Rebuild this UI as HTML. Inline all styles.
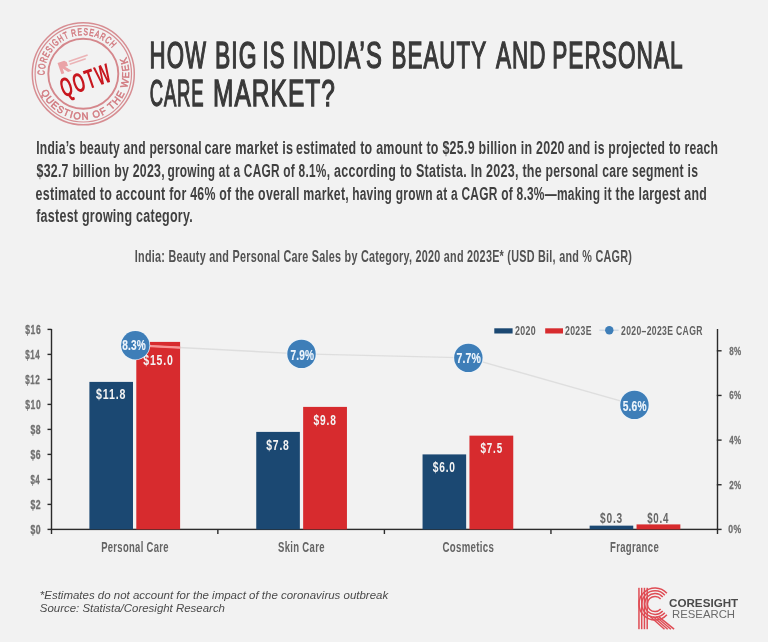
<!DOCTYPE html>
<html><head><meta charset="utf-8"><style>
html,body{margin:0;padding:0;background:#f2f2f2;}
svg{display:block;will-change:transform;font-family:"Liberation Sans", sans-serif;}
</style></head><body>
<svg width="768" height="642" viewBox="0 0 768 642">
<rect width="768" height="642" fill="#f2f2f2"/>
<text x="149.6" y="67.6" font-size="36.5" font-weight="normal" fill="#393939" letter-spacing="1.6" stroke="#393939" stroke-width="1.35" textLength="57.27" lengthAdjust="spacingAndGlyphs">HOW</text>
<text x="215.0" y="67.6" font-size="36.5" font-weight="normal" fill="#393939" letter-spacing="1.6" stroke="#393939" stroke-width="1.35" textLength="42.6" lengthAdjust="spacingAndGlyphs">BIG</text>
<text x="262.6" y="67.6" font-size="36.5" font-weight="normal" fill="#393939" letter-spacing="1.6" stroke="#393939" stroke-width="1.35" textLength="22.91" lengthAdjust="spacingAndGlyphs">IS</text>
<text x="292.6" y="67.6" font-size="36.5" font-weight="normal" fill="#393939" letter-spacing="1.6" stroke="#393939" stroke-width="1.35" textLength="90.28" lengthAdjust="spacingAndGlyphs">INDIA’S</text>
<text x="391.6" y="67.6" font-size="36.5" font-weight="normal" fill="#393939" letter-spacing="1.6" stroke="#393939" stroke-width="1.35" textLength="95.45" lengthAdjust="spacingAndGlyphs">BEAUTY</text>
<text x="496.0" y="67.6" font-size="36.5" font-weight="normal" fill="#393939" letter-spacing="1.6" stroke="#393939" stroke-width="1.35" textLength="50.41" lengthAdjust="spacingAndGlyphs">AND</text>
<text x="552.2" y="67.6" font-size="36.5" font-weight="normal" fill="#393939" letter-spacing="1.6" stroke="#393939" stroke-width="1.35" textLength="131.46" lengthAdjust="spacingAndGlyphs">PERSONAL</text>
<text x="149.8" y="106.1" font-size="36.5" font-weight="normal" fill="#393939" letter-spacing="1.6" stroke="#393939" stroke-width="1.35" textLength="54.64" lengthAdjust="spacingAndGlyphs">CARE</text>
<text x="213.0" y="106.1" font-size="36.5" font-weight="normal" fill="#393939" letter-spacing="1.6" stroke="#393939" stroke-width="1.35" textLength="123.03" lengthAdjust="spacingAndGlyphs">MARKET?</text>
<text x="36.2" y="154.1" font-size="19.2" font-weight="bold" fill="#404040" letter-spacing="0.4" textLength="165.61" lengthAdjust="spacingAndGlyphs">India’s beauty and personal</text>
<text x="204.4" y="154.1" font-size="19.2" font-weight="bold" fill="#404040" letter-spacing="0.4" textLength="89.01" lengthAdjust="spacingAndGlyphs">care market is</text>
<text x="296.0" y="154.1" font-size="19.2" font-weight="bold" fill="#404040" letter-spacing="0.4" textLength="268.8" lengthAdjust="spacingAndGlyphs">estimated to amount to $25.9 billion in 2020</text>
<text x="568.0" y="154.1" font-size="19.2" font-weight="bold" fill="#404040" letter-spacing="0.4" textLength="150.2" lengthAdjust="spacingAndGlyphs">and is projected to reach</text>
<text x="36.6" y="176.8" font-size="19.2" font-weight="bold" fill="#404040" letter-spacing="0.4" textLength="128.22" lengthAdjust="spacingAndGlyphs">$32.7 billion by 2023,</text>
<text x="167.4" y="176.8" font-size="19.2" font-weight="bold" fill="#404040" letter-spacing="0.4" textLength="162.81" lengthAdjust="spacingAndGlyphs">growing at a CAGR of 8.1%,</text>
<text x="334.0" y="176.8" font-size="19.2" font-weight="bold" fill="#404040" letter-spacing="0.4" textLength="208.0" lengthAdjust="spacingAndGlyphs">according to Statista. In 2023, the</text>
<text x="545.6" y="176.8" font-size="19.2" font-weight="bold" fill="#404040" letter-spacing="0.4" textLength="152.62" lengthAdjust="spacingAndGlyphs">personal care segment is</text>
<text x="35.6" y="199.8" font-size="19.2" font-weight="bold" fill="#404040" letter-spacing="0.4" textLength="151.01" lengthAdjust="spacingAndGlyphs">estimated to account for</text>
<text x="190.2" y="199.8" font-size="19.2" font-weight="bold" fill="#404040" letter-spacing="0.4" textLength="158.81" lengthAdjust="spacingAndGlyphs">46% of the overall market,</text>
<text x="352.2" y="199.8" font-size="19.2" font-weight="bold" fill="#404040" letter-spacing="0.4" textLength="248.0" lengthAdjust="spacingAndGlyphs">having grown at a CAGR of 8.3%—making</text>
<text x="603.8" y="199.8" font-size="19.2" font-weight="bold" fill="#404040" letter-spacing="0.4" textLength="103.23" lengthAdjust="spacingAndGlyphs">it the largest and</text>
<text x="36.2" y="222.0" font-size="19.2" font-weight="bold" fill="#404040" letter-spacing="0.4" textLength="156.81" lengthAdjust="spacingAndGlyphs">fastest growing category.</text>
<text x="134.8" y="261.5" font-size="17" font-weight="bold" fill="#525252" letter-spacing="0.4" textLength="497.4" lengthAdjust="spacingAndGlyphs">India: Beauty and Personal Care Sales by Category, 2020 and 2023E* (USD Bil, and % CAGR)</text>
<rect x="50.8" y="329" width="1.4" height="205" fill="#2b2b2b"/><rect x="50.8" y="528.7" width="667" height="1.4" fill="#2b2b2b"/><rect x="716.8" y="329" width="1.4" height="205" fill="#2b2b2b"/><rect x="47.5" y="528.70" width="4" height="1.4" fill="#2b2b2b"/><text x="30.4" y="533.7" font-size="12" font-weight="bold" fill="#707070" letter-spacing="0.8" stroke="#707070" stroke-width="0.3" textLength="10.82" lengthAdjust="spacingAndGlyphs">$0</text>
<rect x="47.5" y="503.70" width="4" height="1.4" fill="#2b2b2b"/><text x="30.4" y="508.7" font-size="12" font-weight="bold" fill="#707070" letter-spacing="0.8" stroke="#707070" stroke-width="0.3" textLength="10.82" lengthAdjust="spacingAndGlyphs">$2</text>
<rect x="47.5" y="478.70" width="4" height="1.4" fill="#2b2b2b"/><text x="30.4" y="483.7" font-size="12" font-weight="bold" fill="#707070" letter-spacing="0.8" stroke="#707070" stroke-width="0.3" textLength="9.84" lengthAdjust="spacingAndGlyphs">$4</text>
<rect x="47.5" y="453.70" width="4" height="1.4" fill="#2b2b2b"/><text x="30.4" y="458.7" font-size="12" font-weight="bold" fill="#707070" letter-spacing="0.8" stroke="#707070" stroke-width="0.3" textLength="10.82" lengthAdjust="spacingAndGlyphs">$6</text>
<rect x="47.5" y="428.70" width="4" height="1.4" fill="#2b2b2b"/><text x="30.4" y="433.7" font-size="12" font-weight="bold" fill="#707070" letter-spacing="0.8" stroke="#707070" stroke-width="0.3" textLength="10.82" lengthAdjust="spacingAndGlyphs">$8</text>
<rect x="47.5" y="403.70" width="4" height="1.4" fill="#2b2b2b"/><text x="25.2" y="408.7" font-size="12" font-weight="bold" fill="#707070" letter-spacing="0.8" stroke="#707070" stroke-width="0.3" textLength="16.03" lengthAdjust="spacingAndGlyphs">$10</text>
<rect x="47.5" y="378.70" width="4" height="1.4" fill="#2b2b2b"/><text x="25.2" y="383.7" font-size="12" font-weight="bold" fill="#707070" letter-spacing="0.8" stroke="#707070" stroke-width="0.3" textLength="15.03" lengthAdjust="spacingAndGlyphs">$12</text>
<rect x="47.5" y="353.70" width="4" height="1.4" fill="#2b2b2b"/><text x="25.2" y="358.7" font-size="12" font-weight="bold" fill="#707070" letter-spacing="0.8" stroke="#707070" stroke-width="0.3" textLength="15.03" lengthAdjust="spacingAndGlyphs">$14</text>
<rect x="47.5" y="328.70" width="4" height="1.4" fill="#2b2b2b"/><text x="25.2" y="333.7" font-size="12" font-weight="bold" fill="#707070" letter-spacing="0.8" stroke="#707070" stroke-width="0.3" textLength="16.03" lengthAdjust="spacingAndGlyphs">$16</text>
<rect x="716.8" y="528.70" width="4.8" height="1.4" fill="#2b2b2b"/><text x="728.2" y="533.3" font-size="11.2" font-weight="bold" fill="#707070" letter-spacing="0.6" stroke="#707070" stroke-width="0.3" textLength="13.46" lengthAdjust="spacingAndGlyphs">0%</text>
<rect x="716.8" y="484.05" width="4.8" height="1.4" fill="#2b2b2b"/><text x="729.2" y="488.65" font-size="11.2" font-weight="bold" fill="#707070" letter-spacing="0.6" stroke="#707070" stroke-width="0.3" textLength="12.5" lengthAdjust="spacingAndGlyphs">2%</text>
<rect x="716.8" y="439.40" width="4.8" height="1.4" fill="#2b2b2b"/><text x="729.2" y="444.0" font-size="11.2" font-weight="bold" fill="#707070" letter-spacing="0.6" stroke="#707070" stroke-width="0.3" textLength="12.5" lengthAdjust="spacingAndGlyphs">4%</text>
<rect x="716.8" y="394.75" width="4.8" height="1.4" fill="#2b2b2b"/><text x="729.2" y="399.35" font-size="11.2" font-weight="bold" fill="#707070" letter-spacing="0.6" stroke="#707070" stroke-width="0.3" textLength="12.5" lengthAdjust="spacingAndGlyphs">6%</text>
<rect x="716.8" y="350.10" width="4.8" height="1.4" fill="#2b2b2b"/><text x="729.2" y="354.7" font-size="11.2" font-weight="bold" fill="#707070" letter-spacing="0.6" stroke="#707070" stroke-width="0.3" textLength="12.5" lengthAdjust="spacingAndGlyphs">8%</text>
<rect x="217.15" y="529" width="1.4" height="5" fill="#2b2b2b"/><rect x="383.70" y="529" width="1.4" height="5" fill="#2b2b2b"/><rect x="550.25" y="529" width="1.4" height="5" fill="#2b2b2b"/><rect x="89.40" y="381.90" width="43.6" height="147.50" fill="#1b4872"/><rect x="136.30" y="341.90" width="43.8" height="187.50" fill="#d72b2e"/><rect x="256.25" y="431.90" width="43.6" height="97.50" fill="#1b4872"/><rect x="303.15" y="406.90" width="43.8" height="122.50" fill="#d72b2e"/><rect x="422.55" y="454.40" width="43.6" height="75.00" fill="#1b4872"/><rect x="469.45" y="435.65" width="43.8" height="93.75" fill="#d72b2e"/><rect x="589.65" y="525.65" width="43.6" height="3.75" fill="#1b4872"/><rect x="636.55" y="524.40" width="43.8" height="5.00" fill="#d72b2e"/><text x="96.0" y="399" font-size="15" font-weight="bold" fill="#f4f4f4" letter-spacing="1.2" textLength="30.33" lengthAdjust="spacingAndGlyphs">$11.8</text>
<text x="143.2" y="365" font-size="15" font-weight="bold" fill="#f4f4f4" letter-spacing="1.2" textLength="30.52" lengthAdjust="spacingAndGlyphs">$15.0</text>
<text x="266.2" y="449.9" font-size="15" font-weight="bold" fill="#f4f4f4" letter-spacing="1.2" textLength="23.5" lengthAdjust="spacingAndGlyphs">$7.8</text>
<text x="313.6" y="425" font-size="15" font-weight="bold" fill="#f4f4f4" letter-spacing="1.2" textLength="23.13" lengthAdjust="spacingAndGlyphs">$9.8</text>
<text x="432.8" y="472" font-size="15" font-weight="bold" fill="#f4f4f4" letter-spacing="1.2" textLength="23.05" lengthAdjust="spacingAndGlyphs">$6.0</text>
<text x="480.6" y="452.9" font-size="15" font-weight="bold" fill="#f4f4f4" letter-spacing="1.2" textLength="22.32" lengthAdjust="spacingAndGlyphs">$7.5</text>
<text x="600.0" y="522.8" font-size="15" font-weight="bold" fill="#666666" letter-spacing="1.2" textLength="23.05" lengthAdjust="spacingAndGlyphs">$0.3</text>
<text x="647.2" y="522.8" font-size="15" font-weight="bold" fill="#666666" letter-spacing="1.2" textLength="22.02" lengthAdjust="spacingAndGlyphs">$0.4</text>
<text x="101.2" y="551.8" font-size="14.8" font-weight="bold" fill="#646464" letter-spacing="0.5" textLength="67.62" lengthAdjust="spacingAndGlyphs">Personal Care</text>
<text x="278.0" y="551.8" font-size="14.8" font-weight="bold" fill="#646464" letter-spacing="0.5" textLength="46.83" lengthAdjust="spacingAndGlyphs">Skin Care</text>
<text x="442.4" y="551.8" font-size="14.8" font-weight="bold" fill="#646464" letter-spacing="0.5" textLength="51.82" lengthAdjust="spacingAndGlyphs">Cosmetics</text>
<text x="610.0" y="551.8" font-size="14.8" font-weight="bold" fill="#646464" letter-spacing="0.5" textLength="49.01" lengthAdjust="spacingAndGlyphs">Fragrance</text>
<polyline points="135.3,345.3 301.5,353.9 468.35,357.85 634.45,404.9" fill="none" stroke="#d6d6d6" stroke-opacity="0.7" stroke-width="1.4"/><line x1="136.3" y1="345.35" x2="180.2" y2="347.62" stroke="#f89494" stroke-width="2.1"/><circle cx="135.3" cy="345.3" r="14.9" fill="#eef5fb"/><circle cx="135.3" cy="345.3" r="14.2" fill="#3e7eb8"/><text x="122.2" y="350.4" font-size="15" font-weight="bold" fill="#eef5fc" letter-spacing="0.2" stroke="#eef5fc" stroke-width="0.15" textLength="23.62" lengthAdjust="spacingAndGlyphs">8.3%</text>
<circle cx="301.5" cy="353.9" r="14.9" fill="#eef5fb"/><circle cx="301.5" cy="353.9" r="14.2" fill="#3e7eb8"/><text x="290.6" y="359.6" font-size="15" font-weight="bold" fill="#eef5fc" letter-spacing="0.2" stroke="#eef5fc" stroke-width="0.15" textLength="23.62" lengthAdjust="spacingAndGlyphs">7.9%</text>
<circle cx="468.35" cy="357.85" r="14.9" fill="#eef5fb"/><circle cx="468.35" cy="357.85" r="14.2" fill="#3e7eb8"/><text x="456.4" y="363.4" font-size="15" font-weight="bold" fill="#eef5fc" letter-spacing="0.2" stroke="#eef5fc" stroke-width="0.15" textLength="24.61" lengthAdjust="spacingAndGlyphs">7.7%</text>
<circle cx="634.45" cy="404.9" r="14.9" fill="#eef5fb"/><circle cx="634.45" cy="404.9" r="14.2" fill="#3e7eb8"/><text x="622.8" y="410.6" font-size="15" font-weight="bold" fill="#eef5fc" letter-spacing="0.2" stroke="#eef5fc" stroke-width="0.15" textLength="23.81" lengthAdjust="spacingAndGlyphs">5.6%</text>
<rect x="494.3" y="328.3" width="18.3" height="5.2" fill="#1b4872"/><rect x="545.2" y="328.3" width="17.8" height="5.2" fill="#d72b2e"/><rect x="599.3" y="329.6" width="19.3" height="1.2" fill="#c8d4e0"/><circle cx="609.3" cy="330.2" r="4.2" fill="#3e7eb8"/><text x="515.0" y="334.8" font-size="12.3" font-weight="bold" fill="#616161" letter-spacing="0.5" textLength="21.0" lengthAdjust="spacingAndGlyphs">2020</text>
<text x="565.0" y="334.8" font-size="12.3" font-weight="bold" fill="#616161" letter-spacing="0.5" textLength="26.85" lengthAdjust="spacingAndGlyphs">2023E</text>
<text x="621.0" y="334.8" font-size="12.3" font-weight="bold" fill="#616161" letter-spacing="0.5" textLength="81.81" lengthAdjust="spacingAndGlyphs">2020–2023E CAGR</text>
<text x="39.8" y="598.5" font-size="11.3" font-weight="normal" fill="#4a4a4a" font-style="italic" textLength="348.4" lengthAdjust="spacingAndGlyphs">*Estimates do not account for the impact of the coronavirus outbreak</text>
<text x="39.8" y="611.6" font-size="11.3" font-weight="normal" fill="#4a4a4a" font-style="italic" textLength="185.2" lengthAdjust="spacingAndGlyphs">Source: Statista/Coresight Research</text>
<text x="669.0" y="607.3" font-size="10" font-weight="bold" fill="#4a4a4a" textLength="69.21" lengthAdjust="spacingAndGlyphs">CORESIGHT</text>
<text x="672.0" y="617.8" font-size="10.2" font-weight="normal" fill="#6a6a6a" textLength="63.04" lengthAdjust="spacingAndGlyphs">RESEARCH</text>
<rect x="638.20" y="587.8" width="1.5" height="41.4" fill="#df4c54"/><rect x="640.95" y="587.8" width="1.5" height="41.4" fill="#df4c54"/><rect x="643.70" y="587.8" width="1.5" height="41.4" fill="#df4c54"/><rect x="646.45" y="587.8" width="1.5" height="41.4" fill="#df4c54"/><path d="M 666.89 593.29 A 16.00 16.00 0 1 0 666.89 614.71" fill="none" stroke="#df4c54" stroke-width="1.5"/><path d="M 664.81 595.17 A 13.20 13.20 0 1 0 664.81 612.83" fill="none" stroke="#df4c54" stroke-width="1.5"/><path d="M 662.73 597.04 A 10.40 10.40 0 1 0 662.73 610.96" fill="none" stroke="#df4c54" stroke-width="1.5"/><path d="M 660.65 598.91 A 7.60 7.60 0 1 0 660.65 609.09" fill="none" stroke="#df4c54" stroke-width="1.5"/><line x1="650.50" y1="616.80" x2="664.50" y2="629.2" stroke="#df4c54" stroke-width="1.5"/><line x1="653.30" y1="616.80" x2="667.70" y2="629.2" stroke="#df4c54" stroke-width="1.5"/><line x1="656.10" y1="616.80" x2="670.90" y2="629.2" stroke="#df4c54" stroke-width="1.5"/><line x1="658.90" y1="616.80" x2="674.10" y2="629.2" stroke="#df4c54" stroke-width="1.5"/><circle cx="83.3" cy="73.8" r="51.0" fill="none" stroke="#d27b81" stroke-width="1.5" stroke-opacity="0.85"/><circle cx="83.3" cy="73.8" r="48.2" fill="none" stroke="#d27b81" stroke-width="1.2" stroke-opacity="0.85"/><circle cx="83.3" cy="73.8" r="35.0" fill="none" stroke="#d27b81" stroke-width="1.9" stroke-opacity="0.9"/><path id="tp1" d="M 44.72 75.15 A 38.6 38.6 0 0 1 112.43 48.48" fill="none"/><path id="tp2" d="M 40.96 91.77 A 46.0 46.0 0 0 0 125.95 56.57" fill="none"/><g fill="#d27b81" stroke="#d27b81" stroke-width="0.5" font-weight="normal" font-size="10">
<text letter-spacing="1.3"><textPath href="#tp1" textLength="95.0" lengthAdjust="spacingAndGlyphs">CORESIGHT RESEARCH</textPath></text>
<text letter-spacing="1.3"><textPath href="#tp2" textLength="143.7" lengthAdjust="spacingAndGlyphs">QUESTION OF THE WEEK</textPath></text>
</g>
<g transform="translate(88.8,89.2) rotate(-19)">
<text x="0" y="0" font-size="27.5" font-weight="bold" fill="#c8161e" text-anchor="middle" textLength="53" lengthAdjust="spacingAndGlyphs" letter-spacing="2.5">QOTW</text>
<path d="M -21 -35 h 7 l 2 2 v 4 h -3 l 5 6 h -4 l -4 -5 v 5 h -3 z" fill="#eaa3a7"/>
<rect x="-10" y="-33.5" width="20" height="1.6" fill="#ebb3b6"/>
<rect x="-10" y="-30.5" width="17" height="1.4" fill="#ebb3b6"/>
</g>

</svg>
</body></html>
